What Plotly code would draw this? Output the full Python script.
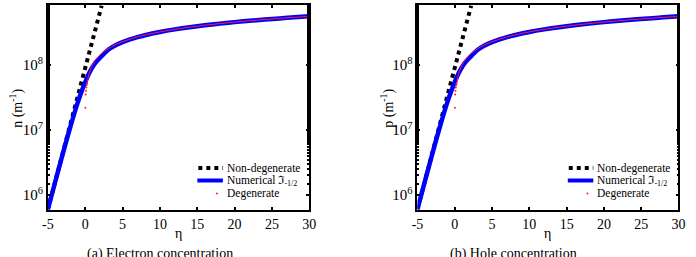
import plotly.graph_objects as go

# eta grid and values (m^-1)
eta_nd = [-5, -4, -3, -2, -1, 0, 1, 2, 2.2]
n_nondeg = [6.06e5, 1.65e6, 4.48e6, 1.22e7, 3.31e7, 9.0e7, 2.45e8, 6.65e8, 8.12e8]

eta_num = [-5, -4, -3, -2, -1, -0.5, 0, 0.5, 1, 1.5, 2, 3, 4, 5, 6, 7, 8, 10, 12, 14, 16, 18, 20, 22, 24, 26, 28, 30]
n_num = [6.05e5, 1.63e6, 4.33e6, 1.11e7, 2.65e7, 3.88e7, 5.44e7, 7.38e7, 9.36e7, 1.125e8, 1.287e8,
         1.679e8, 1.979e8, 2.234e8, 2.459e8, 2.664e8, 2.854e8, 3.198e8, 3.508e8, 3.792e8, 4.056e8,
         4.303e8, 4.537e8, 4.759e8, 4.975e8, 5.175e8, 5.374e8, 5.562e8]

eta_deg = [0.3, 0.5, 1, 1.5, 2, 3, 4, 5, 6, 7, 8, 10, 12, 14, 16, 18, 20, 22, 24, 26, 28, 30]
n_deg = [5.56e7, 7.18e7, 1.016e8, 1.244e8, 1.436e8, 1.759e8, 2.031e8, 2.271e8, 2.487e8, 2.687e8,
         2.872e8, 3.211e8, 3.518e8, 3.800e8, 4.062e8, 4.308e8, 4.541e8, 4.763e8, 4.975e8, 5.178e8,
         5.373e8, 5.562e8]
eta_deg_pts = [0.02, 0.05, 0.1, 0.15, 0.2, 0.25]
n_deg_pts = [2.2e7, 3.5e7, 4.0e7, 4.5e7, 4.9e7, 5.2e7]

x_ticks = [-5, 0, 5, 10, 15, 20, 25, 30]
x_ticktext = ["-5", "0", "5", "10", "15", "20", "25", "30"]
y_ticks = [1e6, 1e7, 1e8]
y_ticktext = ["10<sup>6</sup>", "10<sup>7</sup>", "10<sup>8</sup>"]

legend_names = ["Non-degenerate", "Numerical \u2111<sub>-1/2</sub>", "Degenerate"]
captions = ["(a) Electron concentration", "(b) Hole concentration"]
y_titles = ["n (m<sup>-1</sup>)", "p (m<sup>-1</sup>)"]

W, H = 696, 257
FONT = "Liberation Serif, Times New Roman, serif"
BLACK = "black"
BLUE = "#0000ff"
RED = "#ff2020"

fig = go.Figure()

axes = [("x", "y"), ("x2", "y2")]
for xa, ya in axes:
    fig.add_trace(go.Scatter(x=eta_nd, y=n_nondeg, mode="lines", showlegend=False,
                             line=dict(color=BLACK, width=4, dash="dot"),
                             xaxis=xa, yaxis=ya))
    fig.add_trace(go.Scatter(x=eta_num, y=n_num, mode="lines", showlegend=False,
                             line=dict(color=BLUE, width=4.5, shape="spline"),
                             xaxis=xa, yaxis=ya))
    fig.add_trace(go.Scatter(x=eta_deg, y=n_deg, mode="lines", showlegend=False,
                             line=dict(color=RED, width=1, shape="spline"),
                             xaxis=xa, yaxis=ya))
    fig.add_trace(go.Scatter(x=eta_deg_pts, y=n_deg_pts, mode="markers", showlegend=False,
                             marker=dict(color=RED, size=2),
                             xaxis=xa, yaxis=ya))

xdoms = [(42.7 / W, 309 / W), (419.3 / W, 685.3 / W)]
ydom = (1 - 210 / H, 1 - 5 / H)

common_x = dict(range=[-5, 30], tickvals=x_ticks, ticktext=x_ticktext, ticks="inside", ticklen=3,
                tickcolor=BLACK, tickwidth=1.5,
                showline=True, linecolor=BLACK, linewidth=1.8, mirror="ticks",
                showgrid=False, zeroline=False,
                tickfont=dict(family=FONT, size=14, color=BLACK))
common_y = dict(type="log", range=[5.77, 8.92], tickvals=y_ticks, ticktext=y_ticktext,
                ticks="inside", ticklen=3, tickcolor=BLACK, tickwidth=1.5,
                showline=True, linecolor=BLACK, linewidth=1.8,
                mirror="ticks", showgrid=False, zeroline=False, domain=list(ydom),
                minor=dict(ticks="inside", ticklen=2, tickcolor=BLACK, showgrid=False),
                tickfont=dict(family=FONT, size=15, color=BLACK))

annotations = []
shapes = []
offsets = [0, 377.5]
for i, off in enumerate(offsets):
    annotations.append(dict(text=captions[i], x=(157 if i == 0 else 517) / W, y=1 - 244 / H,
                            xref="paper", yref="paper", xanchor="center", yanchor="top",
                            showarrow=False, font=dict(family=FONT, size=14, color=BLACK)))
    yrows = [168, 180.5, 193.5]
    shapes.append(dict(type="line", xref="paper", yref="paper",
                       x0=(196 + off) / W, x1=(221 + off) / W,
                       y0=1 - yrows[0] / H, y1=1 - yrows[0] / H,
                       line=dict(color=BLACK, width=4, dash="dot")))
    shapes.append(dict(type="line", xref="paper", yref="paper",
                       x0=(195 + off) / W, x1=(221 + off) / W,
                       y0=1 - yrows[1] / H, y1=1 - yrows[1] / H,
                       line=dict(color=BLUE, width=4)))
    shapes.append(dict(type="circle", xref="paper", yref="paper",
                       x0=(214 + off) / W, x1=(216 + off) / W,
                       y0=1 - (yrows[2] + 1) / H, y1=1 - (yrows[2] - 1) / H,
                       fillcolor=RED, line=dict(width=0)))
    for j, name in enumerate(legend_names):
        annotations.append(dict(text=name, x=(223 + off) / W, y=1 - yrows[j] / H,
                                xref="paper", yref="paper", xanchor="left", yanchor="middle",
                                showarrow=False, font=dict(family=FONT, size=11.5, color=BLACK)))
    annotations.append(dict(text="\u03b7", x=(xdoms[i][0] + xdoms[i][1]) / 2, y=1 - 233 / H,
                            xref="paper", yref="paper", xanchor="center", yanchor="middle",
                            showarrow=False, font=dict(family=FONT, size=14, color=BLACK)))
    annotations.append(dict(text=y_titles[i], x=(10 + (0 if i == 0 else 378)) / W, y=1 - 108 / H,
                            xref="paper", yref="paper", xanchor="center", yanchor="middle",
                            textangle=-90, showarrow=False,
                            font=dict(family=FONT, size=14, color=BLACK)))

fig.update_layout(
    width=W, height=H, margin=dict(l=0, r=0, t=0, b=0),
    paper_bgcolor="white", plot_bgcolor="white", showlegend=False,
    xaxis=dict(domain=list(xdoms[0]), anchor="y", **common_x),
    xaxis2=dict(domain=list(xdoms[1]), anchor="y2", **common_x),
    yaxis=dict(anchor="x", **common_y),
    yaxis2=dict(anchor="x2", **common_y),
    annotations=annotations,
    shapes=shapes,
)

fig.write_html("out.html")
